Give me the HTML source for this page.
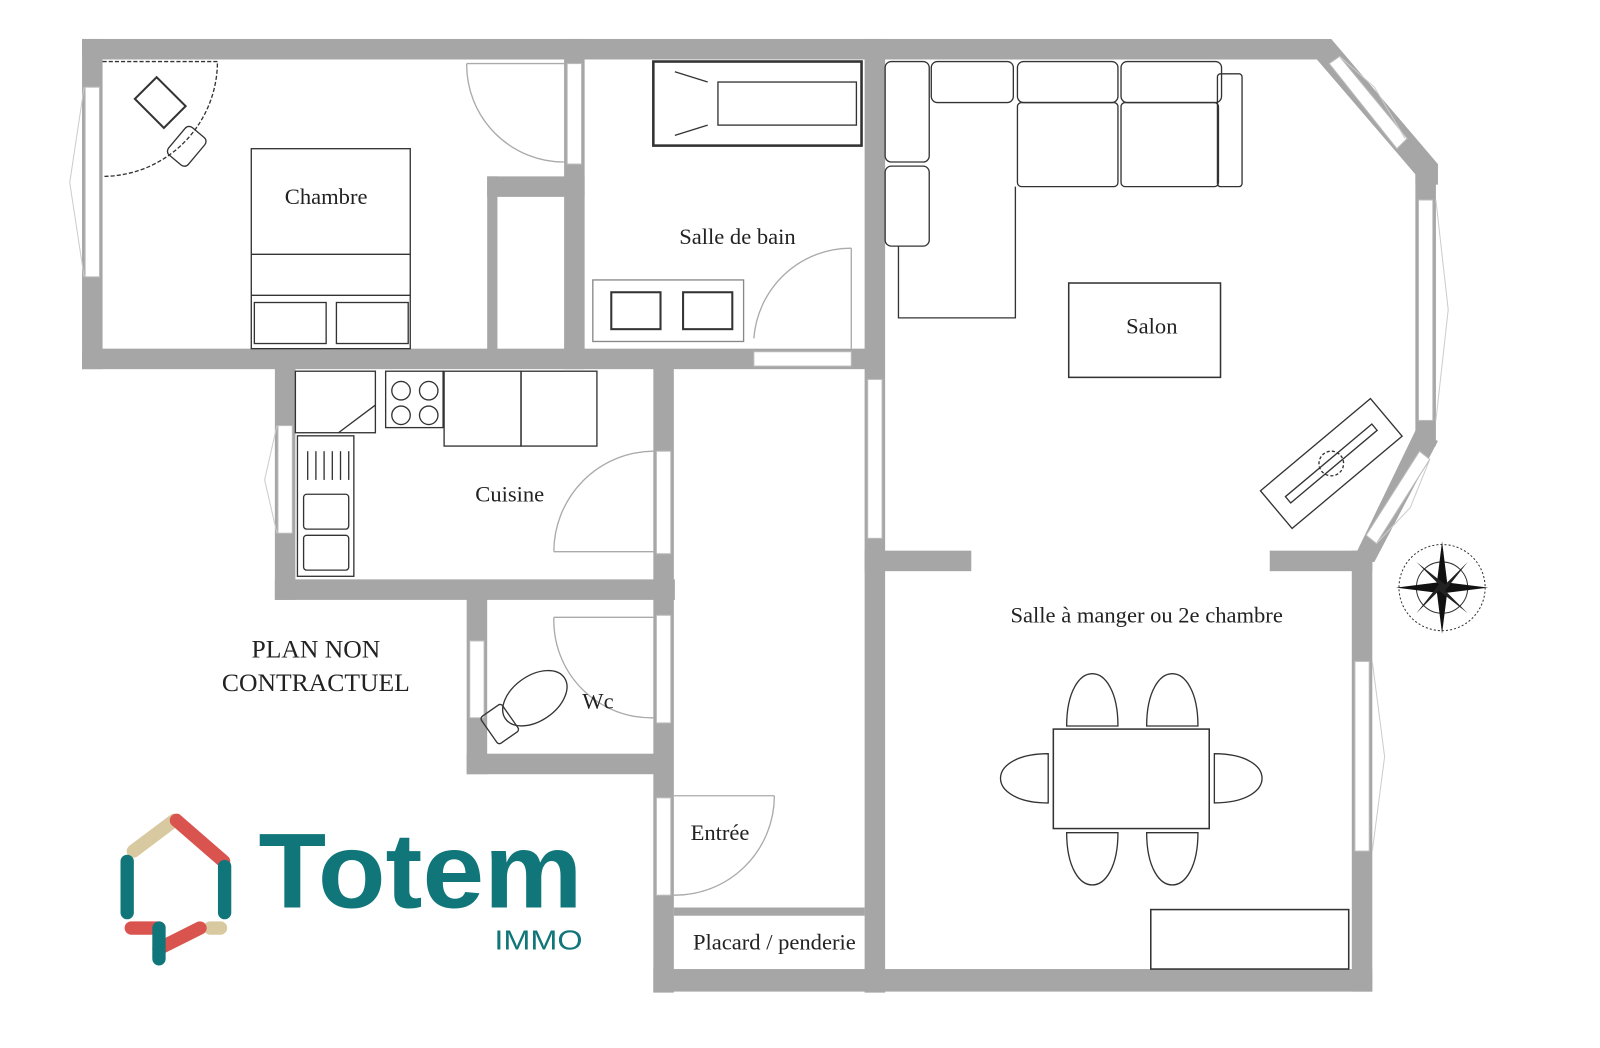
<!DOCTYPE html>
<html><head><meta charset="utf-8"><style>
html,body{margin:0;padding:0;background:#fff;}
svg{display:block}
text{font-family:"Liberation Serif",serif;fill:#222}
text.logo{font-family:"Liberation Sans",sans-serif;fill:#11767a}
</style></head><body>
<svg width="1600" height="1048" viewBox="0 0 1560 1022" preserveAspectRatio="none" xmlns="http://www.w3.org/2000/svg">
<g fill="#a6a6a6">
<rect x="80" y="38" width="1212" height="20"/>
<polygon points="1282,38 1298,38 1402,160 1402,180 1380,180 1380,170 1284,58"/>
<rect x="1380" y="165" width="20" height="270"/>
<polygon points="1380,420 1402,430 1340,548 1318,548"/>
<rect x="1318" y="537" width="20" height="430"/>
<rect x="80" y="38" width="20" height="322"/>
<rect x="80" y="340" width="780" height="20"/>
<rect x="550" y="38" width="20" height="322"/>
<rect x="475" y="172" width="95" height="20"/>
<rect x="475" y="172" width="10" height="170"/>
<rect x="843" y="38" width="20" height="930"/>
<rect x="268" y="350" width="20" height="235"/>
<rect x="268" y="565" width="390" height="20"/>
<rect x="637" y="350" width="20" height="618"/>
<rect x="455" y="575" width="20" height="180"/>
<rect x="455" y="735" width="200" height="20"/>
<rect x="637" y="945" width="701" height="22"/>
<rect x="843" y="537" width="104" height="20"/>
<rect x="1238" y="537" width="100" height="20"/>
<rect x="657" y="885" width="186" height="8"/>
</g>
<g fill="#fff" stroke="#bbb" stroke-width="1">
<rect x="83" y="85" width="14" height="185"/>
<rect x="553" y="62" width="14" height="98"/>
<rect x="271" y="415" width="14" height="105"/>
<rect x="458" y="625" width="14" height="75"/>
<rect x="640" y="440" width="14" height="100"/>
<rect x="640" y="600" width="14" height="105"/>
<rect x="640" y="778" width="14" height="95"/>
<rect x="846" y="370" width="14" height="155"/>
<rect x="735" y="343" width="95" height="14"/>
<rect x="1383" y="195" width="14" height="215"/>
<rect x="1321" y="645" width="14" height="185"/>
<polygon points="1296,62 1306,55 1372,135 1362,145"/>
<polygon points="1384,440 1394,448 1342,530 1332,522"/>
</g>
<g fill="none" stroke="#ccc" stroke-width="1">
<polyline points="82,85 68,178 82,270"/><polyline points="270,415 258,468 270,520"/>
<polyline points="1400,195 1412,302 1400,410"/><polyline points="1338,645 1350,738 1338,830"/>
<polyline points="1306,55 1340,85 1370,135"/><polyline points="1394,448 1375,495 1342,530"/>
</g>
<g fill="none" stroke="#aaa" stroke-width="1.3">
<path d="M455,62 A95,95 0 0 0 550,158"/><line x1="455" y1="62" x2="550" y2="62"/>
<path d="M735,330 A95,95 0 0 1 830,242"/><line x1="830" y1="242" x2="830" y2="340"/>
<path d="M540,538 A98,98 0 0 1 637,440"/><line x1="540" y1="538" x2="637" y2="538"/>
<path d="M540,602 A95,95 0 0 0 637,700"/><line x1="540" y1="602" x2="637" y2="602"/>
<path d="M657,873 A97,97 0 0 0 755,776"/><line x1="657" y1="776" x2="755" y2="776"/>
</g>
<g fill="none" stroke="#333" stroke-width="1.3">
<rect x="245" y="145" width="155" height="195"/><line x1="245" y1="248" x2="400" y2="248"/>
<line x1="245" y1="288" x2="400" y2="288"/>
<rect x="248" y="295" width="70" height="40"/><rect x="328" y="295" width="70" height="40"/>
<path d="M100,60 L212,60 A112,112 0 0 1 100,172" stroke-dasharray="4,2"/>
<rect x="135" y="82" width="40" height="30" transform="rotate(45 152 100)" stroke-width="2"/>
<rect x="170" y="125" width="25" height="35" rx="5" transform="rotate(40 182 142)"/>
<rect x="637" y="60" width="203" height="82" stroke-width="2.5"/>
<rect x="700" y="80" width="135" height="42"/>
<line x1="658" y1="70" x2="690" y2="80"/><line x1="658" y1="132" x2="690" y2="122"/>
<rect x="578" y="273" width="147" height="60" stroke="#888"/>
<rect x="596" y="285" width="48" height="36" stroke-width="2"/><rect x="666" y="285" width="48" height="36" stroke-width="2"/>
<rect x="863" y="60" width="43" height="98" rx="6"/><rect x="863" y="162" width="43" height="78" rx="6"/>
<rect x="908" y="60" width="80" height="40" rx="6"/><rect x="992" y="60" width="98" height="40" rx="6"/><rect x="1093" y="60" width="98" height="40" rx="6"/>
<rect x="992" y="100" width="98" height="82" rx="4"/><rect x="1093" y="100" width="95" height="82" rx="4"/>
<rect x="1187" y="72" width="24" height="110" rx="3"/>
<path d="M876,240 L876,310 L990,310 L990,182"/>
<rect x="1042" y="276" width="148" height="92" stroke-width="1.5"/>
<g transform="rotate(-40 1298 452)"><rect x="1228" y="428" width="140" height="48"/><rect x="1243" y="448" width="110" height="8"/><circle cx="1298" cy="452" r="12" stroke-dasharray="3,2"/></g>
<rect x="288" y="362" width="78" height="60"/>
<rect x="376" y="362" width="56" height="55"/>
<circle cx="391" cy="381" r="9"/><circle cx="418" cy="381" r="9"/><circle cx="391" cy="405" r="9"/><circle cx="418" cy="405" r="9"/>
<rect x="433" y="362" width="75" height="73"/><rect x="508" y="362" width="74" height="73"/>
<rect x="290" y="425" width="55" height="137"/>
<rect x="296" y="482" width="44" height="34" rx="3"/><rect x="296" y="522" width="44" height="34" rx="3"/>
<line x1="300" y1="440" x2="300" y2="468"/><line x1="308" y1="440" x2="308" y2="468"/><line x1="316" y1="440" x2="316" y2="468"/><line x1="324" y1="440" x2="324" y2="468"/><line x1="332" y1="440" x2="332" y2="468"/><line x1="340" y1="440" x2="340" y2="468"/>
<line x1="330" y1="422" x2="366" y2="395"/>
<g transform="rotate(-35 512 690)"><ellipse cx="525" cy="688" rx="35" ry="22"/><rect x="470" y="673" width="25" height="32" rx="3"/></g>
<rect x="1027" y="711" width="152" height="97" stroke-width="1.5"/>
<path d="M1040,708 C1040,640 1090,640 1090,708 Z"/><path d="M1118,708 C1118,640 1168,640 1168,708 Z"/>
<path d="M1040,812 C1040,880 1090,880 1090,812 Z"/><path d="M1118,812 C1118,880 1168,880 1168,812 Z"/>
<path d="M1022,735 C960,735 960,783 1022,783 Z"/><path d="M1184,735 C1246,735 1246,783 1184,783 Z"/>
<rect x="1122" y="887" width="193" height="58" stroke-width="1.5"/>
</g>
<g transform="translate(1406 573)">
<circle r="42" fill="none" stroke="#333" stroke-dasharray="2,2"/>
<circle r="25" fill="none" stroke="#333"/>
<polygon points="0,-45 5,-5 45,0 5,5 0,45 -5,5 -45,0 -5,-5" fill="#111"/>
<polygon points="-25,-25 3,-3 25,-25 3,3 25,25 -3,3 -25,25 -3,-3" fill="#222"/>
</g>
<text x="318" y="199" font-size="22" text-anchor="middle">Chambre</text>
<text x="719" y="238" font-size="22" text-anchor="middle">Salle de bain</text>
<text x="1123" y="325" font-size="22" text-anchor="middle">Salon</text>
<text x="497" y="489" font-size="22" text-anchor="middle">Cuisine</text>
<text x="583" y="691" font-size="22" text-anchor="middle">Wc</text>
<text x="702" y="819" font-size="22" text-anchor="middle">Entrée</text>
<text x="755" y="926" font-size="22" text-anchor="middle">Placard / penderie</text>
<text x="1118" y="607" font-size="22" text-anchor="middle">Salle à manger ou 2e chambre</text>
<text x="308" y="641" font-size="25" text-anchor="middle">PLAN NON</text>
<text x="308" y="674" font-size="25" text-anchor="middle">CONTRACTUEL</text>
<g stroke-linecap="round" stroke-width="13" fill="none">
<line x1="130" y1="830" x2="170" y2="800" stroke="#d9c9a0"/>
<line x1="172" y1="800" x2="218" y2="840" stroke="#d9534f"/>
<line x1="124" y1="840" x2="124" y2="890" stroke="#11767a"/>
<line x1="219" y1="845" x2="219" y2="890" stroke="#11767a"/>
<line x1="128" y1="905" x2="155" y2="905" stroke="#d9534f"/>
<line x1="205" y1="905" x2="215" y2="905" stroke="#d9c9a0"/>
<line x1="155" y1="925" x2="195" y2="905" stroke="#d9534f"/>
<line x1="155" y1="905" x2="155" y2="935" stroke="#11767a"/>
</g>
<text class="logo" x="252" y="885" font-size="104" font-weight="bold" textLength="316" lengthAdjust="spacingAndGlyphs">Totem</text>
<text class="logo" x="482" y="926" font-size="27" textLength="86" lengthAdjust="spacingAndGlyphs">IMMO</text>
</svg>
</body></html>
